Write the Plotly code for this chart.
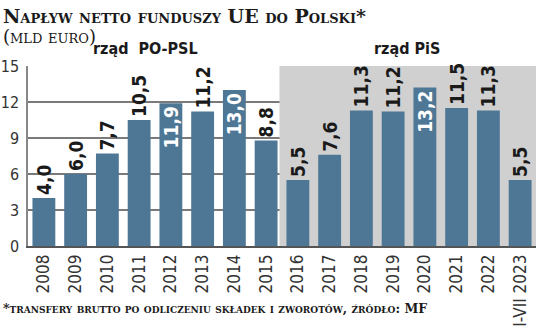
import plotly.graph_objects as go

# Net inflow of EU funds to Poland, bn EUR
years = ["2008", "2009", "2010", "2011", "2012", "2013", "2014", "2015",
         "2016", "2017", "2018", "2019", "2020", "2021", "2022", "I-VII 2023"]
values = [4.0, 6.0, 7.7, 10.5, 11.9, 11.2, 13.0, 8.8,
          5.5, 7.6, 11.3, 11.2, 13.2, 11.5, 11.3, 5.5]
# bars whose value label sits inside the bar (white)
inside_labels = ["2012", "2014", "2020"]
y_ticks = [0, 3, 6, 9, 12, 15]

W, H = 536, 327
PL, PR, PT, PB = 28, 536, 66, 253

BAR = "#4e7795"
SHADE = "#d0d0d0"
GRID = "#7a7a7a"
NARROW = "Liberation Sans Narrow, DejaVu Sans Condensed, Roboto, sans-serif"
SERIF = "DejaVu Serif, Liberation Serif, serif"


def px(x):
    return (x - PL) / (PR - PL)


def py(y):
    return (PB - y) / (PB - PT)


positions = ["inside" if y in inside_labels else "outside" for y in years]
colors = ["white" if y in inside_labels else "#1a1a1a" for y in years]

fig = go.Figure(go.Bar(
    x=years, y=values,
    marker=dict(color=BAR, line=dict(width=0)),
    width=0.72,
    texttemplate="%{y:.1f}",
    textposition=positions,
    insidetextanchor="end",
    textangle=-90,
    constraintext="none",
    cliponaxis=False,
    textfont=dict(family=NARROW, size=19, color=colors, weight="bold"),
    hoverinfo="skip",
))

# PiS government period shading
fig.add_shape(type="rect", xref="x", yref="y", x0=7.42, x1=15.6, y0=0, y1=15,
              fillcolor=SHADE, line=dict(width=0), layer="between")

annotations = [
    dict(text="Napływ netto funduszy UE do Polski*", x=px(1), y=py(1),
         xanchor="left", yanchor="top",
         font=dict(family=SERIF, size=19, color="#1a1a1a", weight="bold", variant="small-caps")),
    dict(text="(mld euro)", x=px(1), y=py(22),
         xanchor="left", yanchor="top",
         font=dict(family=SERIF, size=18, color="#1a1a1a", variant="small-caps")),
    dict(text="rząd  PO-PSL", x=px(145), y=py(48),
         xanchor="center", yanchor="middle",
         font=dict(family=NARROW, size=16, color="#1a1a1a", weight="bold")),
    dict(text="rząd PiS", x=px(407), y=py(48),
         xanchor="center", yanchor="middle",
         font=dict(family=NARROW, size=16, color="#1a1a1a", weight="bold")),
    dict(text="*transfery brutto po odliczeniu składek i zworotów, źródło: MF",
         x=px(1), y=py(318), xanchor="left", yanchor="middle",
         font=dict(family=SERIF, size=12.5, color="#1a1a1a", weight="bold", variant="small-caps")),
]
for a in annotations:
    a.update(xref="paper", yref="paper", showarrow=False)

fig.update_layout(
    width=W, height=H,
    margin=dict(l=PL, r=W - PR, t=PT, b=H - PB, pad=0),
    paper_bgcolor="white", plot_bgcolor="white",
    separators=", ",
    showlegend=False,
    bargap=0.28,
    annotations=annotations,
    xaxis=dict(
        type="category", range=[-0.5, 15.5],
        tickangle=-90, ticks="", showgrid=False,
        showline=True, linecolor="#555555", linewidth=1.5,
        tickfont=dict(family=NARROW, size=17, color="#333333"),
    ),
    yaxis=dict(
        range=[0, 15], tickvals=y_ticks, ticks="",
        showgrid=True, gridcolor=GRID, gridwidth=1.5,
        zeroline=False,
        showline=True, linecolor="#888888", linewidth=1.5,
        tickfont=dict(family=NARROW, size=16, color="#333333"),
        ticklabelstandoff=4,
    ),
)

fig.write_html("out.html")
